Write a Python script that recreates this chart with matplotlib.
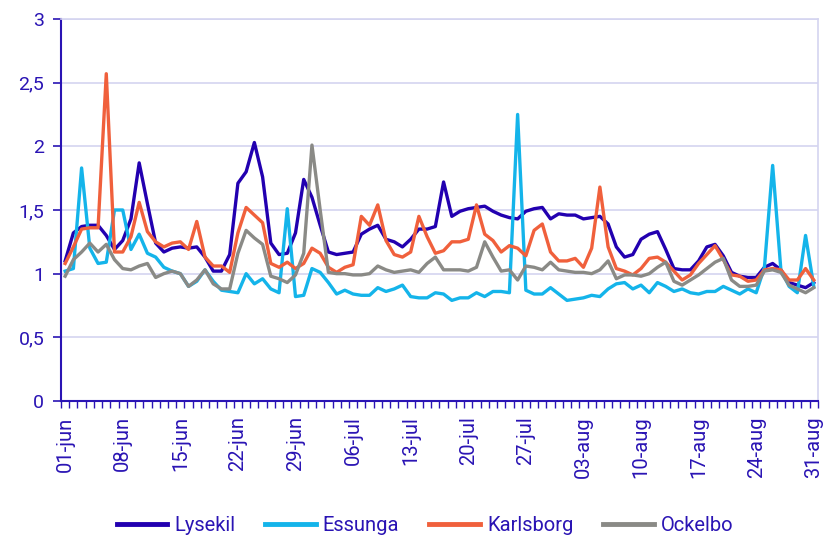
import numpy as np
import matplotlib
matplotlib.use('Agg')
import matplotlib.pyplot as plt

plt.rcParams['font.family'] = ['Roboto', 'DejaVu Sans']

# daily values 01-jun .. 31-aug
lysekil = [1.10, 1.32, 1.37, 1.38, 1.38, 1.30, 1.19, 1.26, 1.43, 1.87, 1.55, 1.24, 1.17, 1.20, 1.21, 1.20,
           1.21, 1.13, 1.02, 1.02, 1.15, 1.71, 1.80, 2.03, 1.76, 1.24, 1.15, 1.16, 1.32, 1.74, 1.60, 1.38,
           1.17, 1.15, 1.16, 1.17, 1.31, 1.35, 1.38, 1.27, 1.25, 1.21, 1.27, 1.35, 1.35, 1.37, 1.72, 1.45,
           1.49, 1.51, 1.52, 1.53, 1.49, 1.46, 1.44, 1.43, 1.49, 1.51, 1.52, 1.43, 1.47, 1.46, 1.46, 1.43,
           1.44, 1.45, 1.39, 1.21, 1.13, 1.15, 1.27, 1.31, 1.33, 1.19, 1.04, 1.03, 1.03, 1.10, 1.21, 1.23,
           1.14, 1.01, 0.98, 0.97, 0.97, 1.05, 1.08, 1.03, 0.93, 0.91, 0.89, 0.93]
essunga = [1.02, 1.04, 1.83, 1.20, 1.08, 1.09, 1.50, 1.50, 1.19, 1.31, 1.16, 1.13, 1.05, 1.02, 1.00, 0.90,
           0.94, 1.03, 0.94, 0.87, 0.86, 0.85, 1.00, 0.92, 0.96, 0.88, 0.85, 1.51, 0.82, 0.83, 1.04, 1.01,
           0.93, 0.84, 0.87, 0.84, 0.83, 0.83, 0.89, 0.86, 0.88, 0.91, 0.82, 0.81, 0.81, 0.85, 0.84, 0.79,
           0.81, 0.81, 0.85, 0.82, 0.86, 0.86, 0.85, 2.25, 0.87, 0.84, 0.84, 0.89, 0.84, 0.79, 0.80, 0.81,
           0.83, 0.82, 0.88, 0.92, 0.93, 0.88, 0.91, 0.85, 0.93, 0.90, 0.86, 0.88, 0.85, 0.84, 0.86, 0.86,
           0.90, 0.87, 0.84, 0.88, 0.85, 1.05, 1.85, 1.03, 0.90, 0.85, 1.30, 0.90]
karlsborg = [1.08, 1.21, 1.35, 1.36, 1.36, 2.57, 1.17, 1.17, 1.29, 1.56, 1.33, 1.25, 1.21, 1.24, 1.25, 1.19,
             1.41, 1.13, 1.06, 1.06, 1.01, 1.32, 1.52, 1.46, 1.40, 1.08, 1.05, 1.09, 1.04, 1.08, 1.20, 1.16,
             1.05, 1.01, 1.05, 1.07, 1.45, 1.38, 1.54, 1.26, 1.15, 1.13, 1.17, 1.45, 1.29, 1.16, 1.18, 1.25,
             1.25, 1.27, 1.54, 1.31, 1.26, 1.17, 1.22, 1.20, 1.14, 1.34, 1.39, 1.17, 1.10, 1.10, 1.12, 1.05,
             1.20, 1.68, 1.21, 1.04, 1.02, 0.99, 1.04, 1.12, 1.13, 1.09, 1.02, 0.95, 0.99, 1.08, 1.15, 1.22,
             1.11, 0.99, 0.98, 0.94, 0.95, 1.03, 1.04, 1.03, 0.95, 0.95, 1.04, 0.95]
ockelbo = [0.98, 1.11, 1.17, 1.24, 1.17, 1.23, 1.11, 1.04, 1.03, 1.06, 1.08, 0.97, 1.00, 1.02, 1.00, 0.90,
           0.95, 1.03, 0.92, 0.88, 0.88, 1.16, 1.34, 1.28, 1.23, 0.98, 0.96, 0.93, 0.99, 1.16, 2.01, 1.50,
           1.01, 1.00, 1.00, 0.99, 0.99, 1.00, 1.06, 1.03, 1.01, 1.02, 1.03, 1.01, 1.08, 1.13, 1.03, 1.03,
           1.03, 1.02, 1.05, 1.25, 1.13, 1.02, 1.03, 0.95, 1.06, 1.05, 1.03, 1.09, 1.03, 1.02, 1.01, 1.01,
           1.00, 1.03, 1.10, 0.96, 0.99, 0.99, 0.98, 1.00, 1.05, 1.09, 0.94, 0.91, 0.95, 0.99, 1.04, 1.09,
           1.12, 0.95, 0.90, 0.90, 0.91, 1.02, 1.03, 1.01, 0.91, 0.88, 0.85, 0.89]

tick_labels = ['01-jun', '08-jun', '15-jun', '22-jun', '29-jun', '06-jul', '13-jul',
               '20-jul', '27-jul', '03-aug', '10-aug', '17-aug', '24-aug', '31-aug']
y_labels = ['0', '0,5', '1', '1,5', '2', '2,5', '3']

axis_col = '#2a14b4'
grid_col = '#d4d4f0'

fig = plt.figure(figsize=(8.27, 5.35), dpi=100)
ax = fig.add_axes([0.0738, 0.2505, 0.9152, 0.714])

days = np.arange(len(lysekil))
ax.plot(days, lysekil, color='#2200b0', lw=2.4, label='Lysekil', zorder=3)
ax.plot(days, essunga, color='#14b4ea', lw=2.4, label='Essunga', zorder=3)
ax.plot(days, karlsborg, color='#f0603c', lw=2.4, label='Karlsborg', zorder=3)
ax.plot(days, ockelbo, color='#8a8a86', lw=2.4, label='Ockelbo', zorder=3)

ax.set_xlim(-0.5, len(days) - 0.5)
ax.set_ylim(0, 3)
ax.set_yticks(np.arange(0, 3.01, 0.5))
ax.set_yticklabels(y_labels)
ax.set_xticks(np.arange(0, len(days), 7))
ax.set_xticklabels(tick_labels, rotation=90)
ax.set_xticks(np.arange(-0.5, len(days), 1), minor=True)

ax.grid(axis='y', color=grid_col, lw=1.2, zorder=0)
ax.tick_params(axis='x', which='major', length=0, pad=11, labelsize=14.5, labelcolor=axis_col)
ax.tick_params(axis='x', which='minor', length=5, width=1, color=axis_col)
ax.tick_params(axis='y', length=6, width=1.2, color=axis_col, pad=6, labelsize=14, labelcolor=axis_col)

for s in ['left', 'bottom']:
    ax.spines[s].set_color(axis_col)
    ax.spines[s].set_linewidth(1.5)
for s in ['top', 'right']:
    ax.spines[s].set_color(grid_col)
    ax.spines[s].set_linewidth(1.2)

leg = fig.legend(loc='center', bbox_to_anchor=(0.514, 0.017), ncol=4, frameon=False,
                 fontsize=14.5, handlelength=2.5, handletextpad=0.35, columnspacing=1.5,
                 labelcolor=axis_col)
for l in leg.get_lines():
    l.set_linewidth(3.5)

fig.savefig('out.png', dpi=100)
